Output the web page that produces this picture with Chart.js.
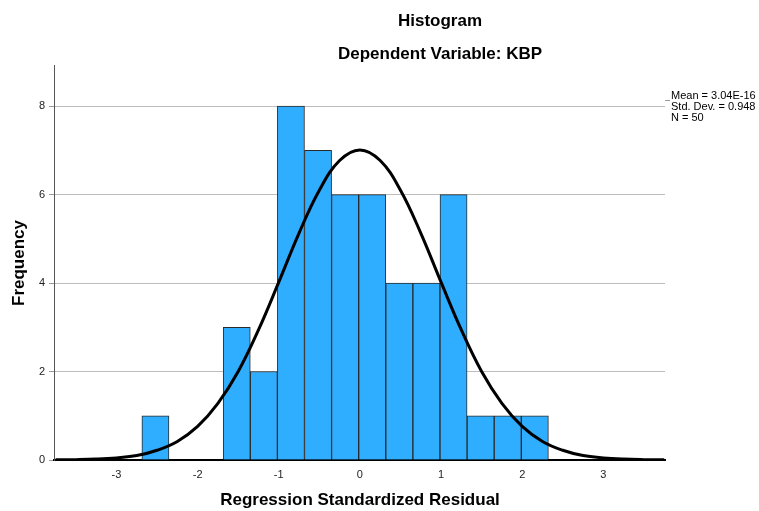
<!DOCTYPE html>
<html>
<head>
<meta charset="utf-8">
<script src="https://cdn.jsdelivr.net/npm/chart.js@4"></script>
<style>
  html, body { margin: 0; padding: 0; background: #fff; }
  #wrap { width: 759px; height: 511px; }
</style>
</head>
<body>
<div id="wrap"><canvas id="grafico" width="759" height="511"></canvas></div>
<script>
// bin centres of the residual histogram (width ~0.334)
const binCenters = [-2.52, -2.186, -1.852, -1.518, -1.184, -0.85, -0.516, -0.182, 0.152, 0.486, 0.82, 1.154, 1.488, 1.822, 2.156];
const frequencies = [1, 0, 0, 3, 2, 8, 7, 6, 6, 4, 4, 6, 1, 1, 1];

// normal curve
const curveX = [-3.75, -3.5, -3.25, -3, -2.75, -2.5, -2.25, -2, -1.75, -1.5, -1.25, -1, -0.75, -0.5, -0.25, 0, 0.25, 0.5, 0.75, 1, 1.25, 1.5, 1.75, 2, 2.25, 2.5, 2.75, 3, 3.25, 3.5, 3.75];
const curveY = [0.003, 0.008, 0.02, 0.047, 0.10, 0.22, 0.42, 0.76, 1.28, 2.0, 2.94, 4.02, 5.13, 6.10, 6.77, 7.01, 6.77, 6.10, 5.13, 4.02, 2.94, 2.0, 1.28, 0.76, 0.42, 0.22, 0.10, 0.047, 0.02, 0.008, 0.003];

const xTicks = [-3, -2, -1, 0, 1, 2, 3];
const yTicks = [0, 2, 4, 6, 8];
const statsLines = ['Mean = 3.04E-16', 'Std. Dev. = 0.948', 'N = 50'];

const textPlugin = {
  id: 'textos',
  afterDraw(chart) {
    const c = chart.ctx;
    c.save();
    c.fillStyle = '#000';
    c.textAlign = 'center';
    c.textBaseline = 'middle';
    c.font = 'bold 17px "Liberation Sans", Arial, sans-serif';
    c.fillText('Histogram', 440, 21);
    c.fillText('Dependent Variable: KBP', 440, 54);
    c.fillText('Regression Standardized Residual', 360, 500);
    c.translate(19, 263);
    c.rotate(-Math.PI / 2);
    c.fillText('Frequency', 0, 0);
    c.restore();

    c.save();
    c.font = '11px "Liberation Sans", Arial, sans-serif';
    c.fillStyle = '#000';
    c.textBaseline = 'middle';
    statsLines.forEach((t, i) => c.fillText(t, 671, 96 + i * 11));
    c.strokeStyle = '#999';
    c.beginPath();
    c.moveTo(665, 100.5);
    c.lineTo(670, 100.5);
    c.stroke();
    c.restore();
  }
};

new Chart(document.getElementById('grafico'), {
  data: {
    datasets: [{
      type: 'line',
      data: curveX.map((x, i) => ({ x: x, y: curveY[i] })),
      borderColor: '#000',
      borderWidth: 3,
      pointRadius: 0,
      tension: 0.4,
      fill: false,
      order: 0
    }, {
      type: 'bar',
      data: binCenters.map((x, i) => ({ x: x, y: frequencies[i] })),
      backgroundColor: '#2fadff',
      borderColor: '#2a2a2a',
      borderWidth: 1,
      barPercentage: 1,
      categoryPercentage: 1,
      order: 1
    }]
  },
  options: {
    responsive: false,
    animation: false,
    layout: { padding: { top: 65, right: 94, left: 0, bottom: 0 } },
    plugins: { legend: { display: false }, tooltip: { enabled: false } },
    scales: {
      x: {
        type: 'linear',
        offset: false,
        min: -3.77,
        max: 3.76,
        afterBuildTicks: s => { s.ticks = xTicks.map(v => ({ value: v })); },
        afterFit: s => { s.height = 51; },
        grid: { display: false, drawTicks: false, offset: false },
        border: { color: '#000', width: 2 },
        ticks: { color: '#222', font: { size: 11, family: '"Liberation Sans", Arial' }, padding: 8, maxRotation: 0 }
      },
      y: {
        min: 0,
        max: 8.93,
        afterBuildTicks: s => { s.ticks = yTicks.map(v => ({ value: v })); },
        afterFit: s => { s.width = 54; },
        grid: { color: '#bdbdbd', tickColor: '#999', tickLength: 5, drawOnChartArea: true },
        border: { color: '#555', width: 1 },
        ticks: { color: '#222', font: { size: 11, family: '"Liberation Sans", Arial' }, padding: 4 }
      }
    }
  },
  plugins: [textPlugin]
});
</script>
</body>
</html>
